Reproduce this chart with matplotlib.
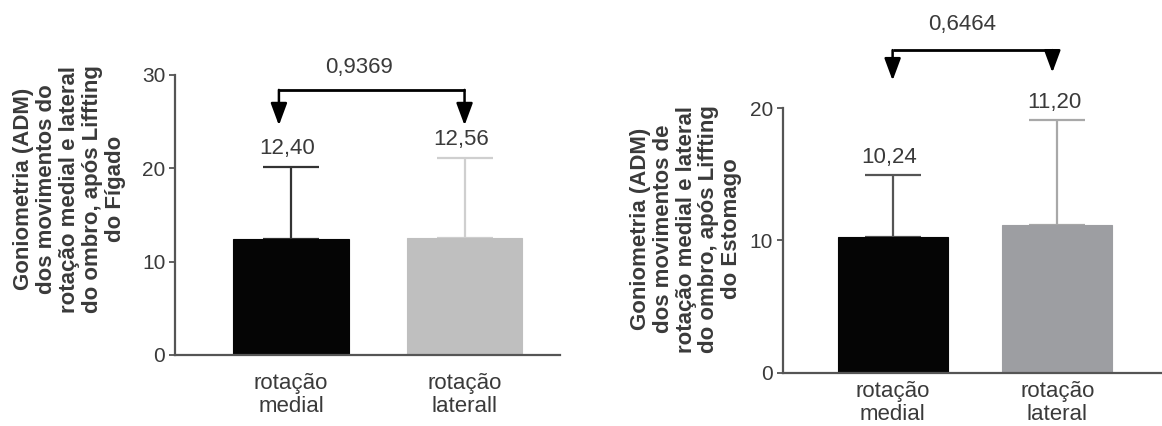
import numpy as np
import matplotlib
matplotlib.use("Agg")
import matplotlib.pyplot as plt

plt.rcParams['font.family'] = ['Liberation Sans', 'DejaVu Sans']

# Figado
grupos_figado = ["rotação\nmedial", "rotação\nlaterall"]
media_figado = [12.40, 12.56]
dp_figado = [7.75, 8.55]
p_figado = "0,9369"

# Estomago
grupos_estomago = ["rotação\nmedial", "rotação\nlateral"]
media_estomago = [10.24, 11.20]
dp_estomago = [4.68, 7.88]
p_estomago = "0,6464"

ylabel_figado = "Goniometria (ADM)\ndos movimentos do\nrotação medial e lateral\ndo ombro, após Liffting\ndo Fígado"
ylabel_estomago = "Goniometria (ADM)\ndos movimentos de\nrotação medial e lateral\ndo ombro, após Liffting\ndo Estomago"

cinza_txt = "#3a3a3a"


def grafico(ax, grupos, medias, dps, cores, cores_erro, ymax, passo, xlim, pad_x):
    x = np.arange(len(grupos))
    ax.bar(x, medias, width=0.668, color=cores, edgecolor=cores, linewidth=0.8, zorder=2)
    for xi, m, d, ce in zip(x, medias, dps, cores_erro):
        ax.errorbar(xi, m, yerr=[[0], [d]], fmt='none', ecolor=ce, elinewidth=1.6,
                    capsize=20, capthick=1.6, zorder=1)
        ax.annotate(f"{m:.2f}".replace('.', ','), (xi - 0.02, m + d), xytext=(0, 13),
                    textcoords='offset points', ha='center', va='center',
                    fontsize=16, color=cinza_txt, annotation_clip=False)
    ax.set_xlim(*xlim)
    ax.set_ylim(0, ymax)
    ax.set_yticks(np.arange(0, ymax + 1, passo))
    ax.set_xticks(x)
    ax.set_xticklabels(grupos, fontsize=16, color=cinza_txt, linespacing=1.1)
    ax.tick_params(axis='x', length=0, pad=pad_x)
    ax.tick_params(axis='y', length=4, width=1.3, color='#555555', pad=3,
                   labelsize=15, labelcolor=cinza_txt)
    for s in ['top', 'right']:
        ax.spines[s].set_visible(False)
    for s in ['left', 'bottom']:
        ax.spines[s].set_color('#555555')
        ax.spines[s].set_linewidth(1.6)


def colchete(ax, x1, x2, y, pontas, texto, xt, yt):
    ax.plot([x1, x2], [y, y], color='black', lw=2, clip_on=False, solid_capstyle='butt')
    for xp, yp in zip([x1, x2], pontas):
        ax.annotate("", xy=(xp, yp), xytext=(xp, y), annotation_clip=False,
                    arrowprops=dict(arrowstyle='-|>,head_length=1.35,head_width=0.5',
                                    color='black', lw=1.8, shrinkA=0, shrinkB=0,
                                    mutation_scale=10))
    ax.text(xt, yt, texto, ha='center', va='center', fontsize=16, color=cinza_txt,
            clip_on=False)


fig = plt.figure(figsize=(11.62, 4.26), dpi=100)

ax1 = fig.add_axes([0.1506, 0.1667, 0.3313, 0.6573])
grafico(ax1, grupos_figado, media_figado, dp_figado, ['#050505', '#bfbfbf'],
        ['#333333', '#cfcfcf'], 30, 10, (-0.669, 1.55), 13)
colchete(ax1, -0.07, 1.0, 28.4, [24.6, 24.6], p_figado, 0.39, 30.75)

ax2 = fig.add_axes([0.6738, 0.1251, 0.3262, 0.6207])
grafico(ax2, grupos_estomago, media_estomago, dp_estomago, ['#050505', '#9d9ea2'],
        ['#555555', '#a8a8a8'], 20, 10, (-0.666, 1.636), 6)
colchete(ax2, 0.0, 0.97, 24.4, [22.1, 22.7], p_estomago, 0.42, 26.3)

fig.text(0.0598, 0.5563, ylabel_figado, rotation=90, ha='center', va='center',
         multialignment='center', fontsize=16, fontweight='bold', color=cinza_txt,
         linespacing=1.12)
fig.text(0.5904, 0.4624, ylabel_estomago, rotation=90, ha='center', va='center',
         multialignment='center', fontsize=16, fontweight='bold', color=cinza_txt,
         linespacing=1.12)

fig.savefig("out.png", dpi=100)
